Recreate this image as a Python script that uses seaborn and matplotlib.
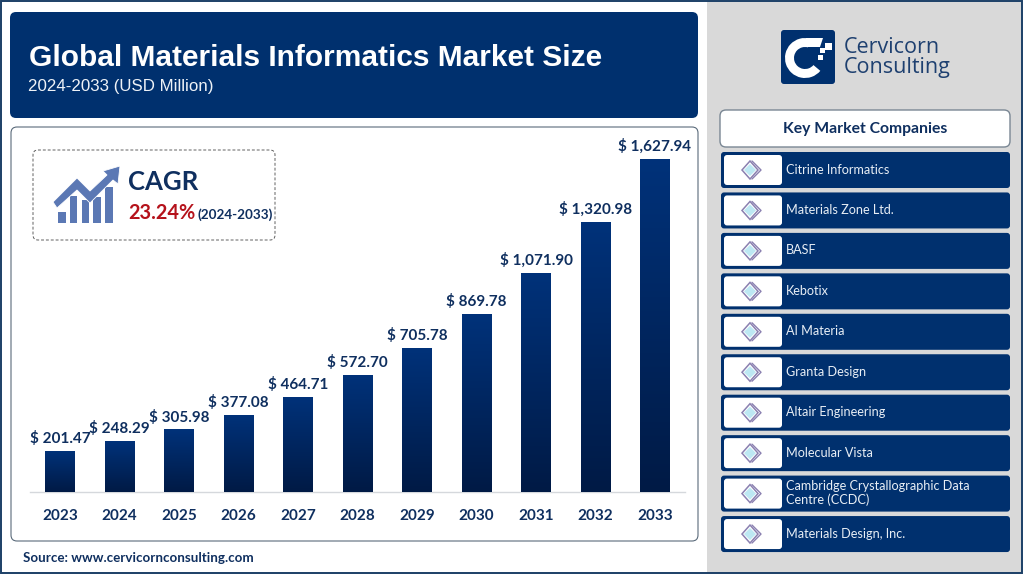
import numpy as np
import pandas as pd
import matplotlib
matplotlib.use('Agg')
import matplotlib.pyplot as plt
import seaborn as sns
from matplotlib.colors import LinearSegmentedColormap
from matplotlib.patches import FancyBboxPatch, Rectangle, Polygon, Wedge

years = ['2023', '2024', '2025', '2026', '2027', '2028', '2029', '2030', '2031', '2032', '2033']
market_size = [201.47, 248.29, 305.98, 377.08, 464.71, 572.70, 705.78, 869.78, 1071.90, 1320.98, 1627.94]
companies = ['Citrine Informatics', 'Materials Zone Ltd.', 'BASF', 'Kebotix', 'AI Materia', 'Granta Design',
             'Altair Engineering', 'Molecular Vista', 'Cambridge Crystallographic Data\nCentre (CCDC)',
             'Materials Design, Inc.']

NAVY = '#00306E'
TEXT = '#0F2F5F'
W, H = 1024, 576

sns.set_theme(style='white')
plt.rcParams['font.family'] = ['Lato', 'DejaVu Sans']

fig = plt.figure(figsize=(W / 100, H / 100), dpi=100, facecolor='white')

# Background layer in pixel coordinates, y going down.
bg = fig.add_axes([0, 0, 1, 1])
bg.set_xlim(0, W)
bg.set_ylim(H, 0)
bg.axis('off')


def box(x, y, w, h, face, edge='none', lw=1.0, r=6, ls='-', z=1):
    p = FancyBboxPatch((x + r, y + r), w - 2 * r, h - 2 * r, boxstyle=f'round,pad={r},rounding_size={r}',
                       facecolor=face, edgecolor=edge, linewidth=lw, linestyle=ls, zorder=z)
    bg.add_patch(p)


def diamond_icon(cx, cy):
    bg.add_patch(Polygon([(cx - 8, cy), (cx, cy - 9), (cx + 8, cy), (cx, cy + 9)], closed=True,
                         facecolor='none', edgecolor='#8A80B0', linewidth=1.1, zorder=4))
    bg.plot([cx + 2, cx + 11, cx + 2], [cy - 9, cy, cy + 9], color='#8A80B0', linewidth=1.0, zorder=3)
    bg.add_patch(Polygon([(cx - 6, cy), (cx, cy - 6), (cx + 6, cy), (cx, cy + 6)], closed=True,
                         facecolor='#BDE8F3', edgecolor='none', zorder=5))


# Right grey column and frame
bg.add_patch(Rectangle((707, 1), 315, 572, facecolor='#D9D9D9', edgecolor='none', zorder=0))
bg.add_patch(Rectangle((1, 1), 1021, 572, facecolor='none', edgecolor='#1B3F66', linewidth=1.4, zorder=6))

# Header
box(10, 12, 688, 106, NAVY)
bg.text(29, 58, 'Global Materials Informatics Market Size', color='white', fontsize=21.5, fontweight='bold',
        family='Liberation Sans', va='center', ha='left', zorder=3)
bg.text(28, 86, '2024-2033 (USD Million)', color='#EEF2F7', fontsize=12.2, family='Liberation Sans',
        va='center', ha='left', zorder=3)

# Chart card
box(11, 127, 687, 414, 'white', edge='#5A6A7A', lw=0.8)
bg.text(23, 558, 'Source: www.cervicornconsulting.com', color=TEXT, fontsize=9.6, fontweight='bold',
        va='center', ha='left')

# CAGR box
box(33, 150, 242, 90, 'white', edge='#606060', lw=0.7, ls=(0, (3, 2)), r=5, z=2)
for bx, by, bw in zip([58, 70, 82, 93, 105], [212, 196, 200, 197, 187], [8, 7, 7, 8, 8]):
    bg.add_patch(Rectangle((bx, by), bw, 223 - by, facecolor='#5B78B4', edgecolor='none', zorder=3))
bg.add_patch(Polygon([(53, 202), (77, 178), (90, 191), (107, 175), (103, 171), (120, 166), (118, 184), (113, 180),
                      (90, 203), (77, 190), (57, 208)], closed=True, facecolor='#5B78B4', edgecolor='white',
                     linewidth=0.6, zorder=4))
bg.text(128, 182, 'CAGR', color=TEXT, fontsize=18.5, fontweight='bold', va='center', ha='left', zorder=3)
bg.text(128, 213, '23.24%', color='#B5121B', fontsize=14.3, fontweight='bold', va='center', ha='left', zorder=3)
bg.text(197, 215, '(2024-2033)', color=TEXT, fontsize=9.7, fontweight='bold', va='center', ha='left', zorder=3)

# Logo
box(781, 30, 54, 54, NAVY, r=3)
bg.add_patch(Wedge((805, 58), 20, 40, 285, width=9, facecolor='white', edgecolor='none', zorder=3))
bg.add_patch(Polygon([(806, 38), (823, 38), (820, 47), (806, 47)], closed=True, facecolor='white',
                     edgecolor='none', zorder=3))
for sx, sy, s in [(825, 43, 7), (820, 48, 5), (818, 55, 5)]:
    bg.add_patch(Rectangle((sx, sy), s, s, facecolor='white', edgecolor='none', zorder=3))
bg.text(844, 53, 'Cervicorn', color='#1E4070', fontsize=15.5, va='baseline', ha='left', family='Open Sans')
bg.text(844, 73, 'Consulting', color='#1E4070', fontsize=15.5, va='baseline', ha='left', family='Open Sans')

# Company list
box(720, 110, 290, 37, 'white', edge='#7A8794', lw=1.0, r=6)
bg.text(865, 128.5, 'Key Market Companies', color=TEXT, fontsize=11.3, fontweight='bold', va='center', ha='center',
        zorder=3)
row_tops = 152 + 40.45 * np.arange(len(companies))
for top, name in zip(row_tops, companies):
    box(721, top, 289, 36, NAVY, r=3)
    box(724, top + 3, 58, 30, 'white', r=3, z=2)
    diamond_icon(750, top + 18)
    bg.text(786, top + 17.5, name, color='#E8EEF5', fontsize=9.1, va='center', ha='left', linespacing=1.2, zorder=3)

# Bar chart, baseline at y=492 and 333 px for the largest value
ax = fig.add_axes([30.25 / W, (H - 492) / H, 654.5 / W, 362 / H])
ax.patch.set_alpha(0)
df = pd.DataFrame({'year': years, 'size': market_size})
sns.barplot(data=df, x='year', y='size', color=NAVY, width=0.5, ax=ax, zorder=2)

# Vertical gradient on every bar
cmap = LinearSegmentedColormap.from_list('bar', ['#001A45', '#00327A'])
grad = np.linspace(0, 1, 256).reshape(-1, 1)
for bar in ax.patches:
    x0, w, h = bar.get_x(), bar.get_width(), bar.get_height()
    im = ax.imshow(grad, extent=[x0, x0 + w, 0, h], origin='lower', cmap=cmap, aspect='auto', zorder=3)
    im.set_clip_path(bar)
ax.set_xlim(-0.5, 10.5)
ax.set_ylim(0, max(market_size) * 362 / 333)

ax.bar_label(ax.containers[0], labels=[f'$ {v:,.2f}' for v in market_size], padding=3.5, fontsize=11,
             fontweight='bold', color=TEXT, zorder=5)

sns.despine(ax=ax, left=True)
ax.spines['bottom'].set_color('#D5D8DC')
ax.spines['bottom'].set_linewidth(1.0)
ax.set_xlabel('')
ax.set_ylabel('')
ax.set_yticks([])
ax.tick_params(axis='x', length=0, pad=12.5)
for t in ax.get_xticklabels():
    t.set_fontsize(11)
    t.set_fontweight('bold')
    t.set_color(TEXT)

fig.savefig('out.png', dpi=100)
